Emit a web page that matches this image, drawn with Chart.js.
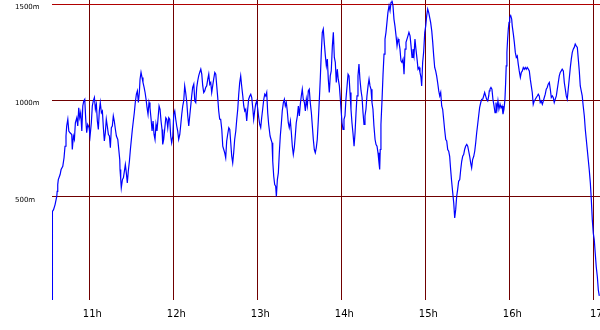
<!DOCTYPE html>
<html><head><meta charset="utf-8">
<script src="https://cdn.jsdelivr.net/npm/chart.js@4/dist/chart.umd.min.js"></script>
<style>html,body{margin:0;padding:0;background:#fff;overflow:hidden}canvas{display:block}</style>
</head><body>
<canvas id="c" width="600" height="330"></canvas>
<script>
// x axis: minutes since midnight; y axis: altitude in metres
const tickMinutes = [660, 720, 780, 840, 900, 960, 1020];
const tickLabels = ['11h', '12h', '13h', '14h', '15h', '16h', '17'];
const altTicks = [500, 1000, 1500];
const altLabels = ['500m', '1000m', '1500m'];

const minutes = [
633.5,633.6,634.4,635.5,636.7,637.0,637.4,637.8,639.1,639.8,641.0,641.9,642.6,643.3,643.8,644.6,645.3,646.2,647.4,647.8,648.6,649.3,650.0,651.0,651.7,652.4,653.1,653.8,654.6,655.3,656.0,656.7,657.4,658.1,658.8,659.8,660.5,661.4,662.1,662.8,663.6,664.3,665.0,665.7,666.4,667.1,667.8,668.6,669.3,670.0,670.7,671.4,672.1,672.8,673.6,674.3,675.0,675.7,676.4,677.1,677.8,678.6,679.3,680.3,681.0,681.7,681.9,682.4,682.8,683.6,684.3,685.0,685.7,686.4,687.1,687.8,688.6,689.3,690.0,690.7,691.4,692.1,692.8,693.6,694.3,695.0,695.7,696.2,696.9,697.6,698.3,699.1,699.8,700.5,701.2,701.9,702.6,703.3,704.1,704.8,705.5,706.2,706.9,707.6,708.3,709.1,709.8,
710.5,711.2,711.9,712.4,713.1,713.8,714.6,715.3,716.0,716.7,717.4,718.1,718.8,719.6,720.3,721.0,721.7,722.4,723.1,723.8,724.6,725.3,726.0,726.7,727.4,728.1,728.8,729.6,730.3,731.0,731.7,732.4,733.1,733.8,734.6,735.3,736.0,736.7,737.4,738.1,738.8,739.6,740.3,741.0,741.7,742.4,743.1,743.8,744.6,745.3,746.0,746.7,747.4,748.1,748.8,749.6,750.3,751.0,751.7,752.4,753.1,753.8,754.6,755.3,756.0,756.7,757.4,758.1,758.8,759.6,760.3,761.0,761.7,762.4,763.1,763.8,764.6,765.3,766.0,766.7,767.4,768.1,768.8,769.6,770.3,771.0,771.7,772.4,773.1,773.8,774.6,775.3,776.0,776.7,777.4,778.1,778.8,779.6,780.3,781.0,781.7,782.4,783.1,783.8,784.6,785.3,786.0,786.7,787.4,788.1,
789.1,789.8,790.5,791.0,791.7,792.4,793.1,793.6,794.3,795.0,795.7,796.4,797.1,797.8,798.6,799.3,800.0,800.7,801.4,802.1,802.8,803.6,804.3,805.0,805.7,806.4,807.1,807.8,808.6,809.3,810.0,810.7,811.4,812.1,812.8,813.6,814.3,815.0,815.7,816.4,817.1,817.8,818.6,819.3,820.0,820.7,821.4,822.1,822.8,823.6,824.3,825.0,825.7,826.4,827.1,827.8,828.6,829.3,830.0,830.7,831.4,832.1,832.8,833.6,834.3,835.0,835.7,836.4,837.1,837.8,838.6,839.3,839.8,840.5,841.2,841.9,842.6,843.3,844.1,844.8,845.5,846.2,846.9,847.6,848.3,849.1,849.8,850.5,851.2,851.9,852.6,853.3,854.1,854.8,855.5,856.2,856.9,857.6,858.3,859.1,859.8,860.5,861.2,861.9,862.6,863.3,864.1,864.8,865.5,866.2,866.9,867.4,
867.8,868.3,869.1,869.8,870.5,871.2,871.9,872.6,873.3,874.1,874.8,875.5,876.2,876.9,877.6,878.3,879.1,879.8,880.5,881.2,881.9,882.6,883.3,884.1,884.8,885.5,886.2,886.9,887.6,888.3,889.1,889.8,890.5,891.2,891.9,892.6,893.3,894.1,894.8,895.5,896.2,896.9,897.4,898.1,898.8,899.6,900.3,901.0,901.7,902.4,903.1,903.8,904.6,905.3,906.0,906.7,907.4,908.1,908.8,909.6,910.3,911.0,911.7,912.4,913.1,913.8,914.6,915.3,916.0,916.7,917.4,918.1,918.8,919.6,920.3,921.0,921.7,922.4,923.1,923.8,924.6,925.3,926.0,926.7,927.4,928.1,928.8,929.6,930.3,931.0,931.7,932.4,933.1,933.8,934.6,935.3,936.0,936.7,937.4,938.1,938.8,939.6,940.3,941.0,941.7,942.4,943.1,943.8,944.6,945.3,945.7,
946.2,946.9,947.6,948.3,949.1,949.8,950.5,951.2,951.9,952.6,953.4,954.1,954.8,955.5,956.2,956.9,957.4,957.8,958.3,958.8,959.3,959.8,960.3,961.0,961.7,962.1,962.9,963.6,964.3,965.0,965.7,966.4,967.1,967.9,968.6,969.3,970.0,970.7,971.4,972.1,972.8,973.6,974.3,975.0,975.7,976.4,977.1,977.8,978.6,979.3,980.0,980.7,981.4,982.1,982.8,983.6,984.3,985.0,985.7,986.4,987.1,987.8,988.6,989.3,990.0,990.7,991.4,992.1,992.8,993.6,994.3,995.0,995.7,996.4,997.1,997.8,998.6,999.3,1000.0,1000.7,1001.4,1002.1,1002.8,1003.6,1004.3,1005.0,1005.7,1006.4,1007.1,1007.8,1008.6,1009.3,1010.0,1010.7,1011.4,1012.1,1012.8,1013.6,1014.3,1015.0,1015.7,1016.4,1017.1,1017.9,1018.6,1019.3,1020.0,1020.7,1021.4,1022.1,1022.9,1023.6,1024.3
];

const altitude = [
-35,425,434,460,503,529,564,590,616,642,659,703,763,816,868,903,842,833,824,746,816,798,885,911,868,963,911,937,842,972,998,1007,903,833,876,859,816,885,972,998,1016,955,981,894,850,946,990,937,946,859,790,833,903,868,824,816,755,859,868,920,894,850,816,798,746,694,642,590,547,590,599,633,668,625,573,633,685,746,798,850,894,937,990,1033,1050,990,1042,1111,1146,1120,1094,1068,1042,1007,963,929,990,963,903,842,894,824,798,876,842,911,972,
955,894,850,772,798,850,911,903,859,911,903,816,781,816,929,946,903,868,842,798,824,876,929,972,998,1076,1042,990,920,868,920,972,1024,1068,1085,998,990,1068,1102,1128,1146,1163,1137,1076,1042,1050,1068,1076,1111,1137,1085,1094,1042,1076,1111,1146,1137,1076,1016,946,903,903,850,763,746,729,703,790,824,859,850,781,711,677,729,798,842,903,955,1033,1094,1128,1076,1024,972,946,955,894,955,1007,1024,1033,1016,963,903,946,981,998,955,911,876,859,911,955,1007,1033,1024,1042,937,876,
816,798,781,685,607,564,555,503,590,625,729,816,876,946,990,1007,972,990,946,885,859,894,833,763,720,755,816,885,920,972,920,981,1024,1059,1007,990,946,1007,972,1050,1059,990,937,868,798,746,729,755,798,903,1007,1120,1250,1354,1371,1302,1232,1180,1215,1111,1042,1128,1154,1284,1354,1224,1198,1094,1163,1111,1076,1007,955,885,850,903,920,1007,1076,1137,1128,1042,955,885,833,763,833,937,1024,1128,1189,1111,1050,1016,937,876,920,955,1024,1076,1111,1076,1059,990,955,868,798,772,763,729,677,642,
746,876,1007,1137,1241,1319,1354,1406,1458,1493,1467,1510,1519,1493,1423,1388,1336,1284,1319,1302,1267,1206,1198,1215,1137,1267,1302,1319,1336,1354,1336,1284,1224,1267,1232,1319,1267,1215,1163,1172,1146,1120,1076,1198,1250,1354,1388,1441,1475,1458,1432,1406,1362,1302,1232,1172,1154,1128,1094,1050,1024,1042,972,955,903,850,798,790,746,737,711,642,581,521,469,391,434,503,538,581,590,642,685,711,720,746,763,772,763,737,711,677,651,694,711,737,781,833,876,920,963,990,1007,1007,1024,1042,1024,1007,998,1024,1050,
1059,1068,1059,1007,972,937,990,955,998,955,981,963,972,929,955,1007,1094,1180,1250,1319,1371,1406,1432,1441,1423,1388,1345,1302,1250,1224,1232,1189,1154,1120,1146,1154,1172,1163,1172,1163,1172,1163,1154,1111,1076,1042,981,998,1007,1016,1024,1033,1024,990,998,981,998,1016,1033,1059,1068,1085,1094,1059,1016,1024,1016,990,1007,1024,1059,1094,1128,1146,1154,1163,1154,1094,1059,1024,1007,1059,1111,1172,1215,1250,1267,1276,1293,1284,1276,1215,1154,1076,1050,1024,972,920,850,798,746,694,642,573,486,382,312,278,208,139,86,17,-14
];

const points = minutes.map((m, i) => ({ x: m, y: altitude[i] }));

new Chart(document.getElementById('c'), {
  type: 'line',
  data: { datasets: [{ data: points, borderColor: '#0000ff', borderWidth: 1.2, pointRadius: 0, tension: 0, fill: false }] },
  options: {
    responsive: false, animation: false, devicePixelRatio: 1,
    layout: { padding: { left: 15, top: 0, right: 0, bottom: 0 } },
    plugins: { legend: { display: false }, tooltip: { enabled: false } },
    scales: {
      x: {
        type: 'linear', min: 633.3, max: 1024.8,
        afterBuildTicks: s => { s.ticks = tickMinutes.map(v => ({ value: v })); },
        afterFit: s => { s.height = 30; s.paddingLeft = 0; s.paddingRight = 0; },
        grid: { color: '#700000', drawTicks: false, lineWidth: 1 },
        border: { display: false },
        ticks: {
          callback: (v, i) => tickLabels[i],
          font: { family: 'DejaVu Sans', size: 10 }, color: '#000',
          padding: 8, labelOffset: 3, maxRotation: 0, autoSkip: false
        }
      },
      y: {
        min: -35, max: 1522,
        afterBuildTicks: s => { s.ticks = altTicks.map(v => ({ value: v })); },
        afterFit: s => { s.width = 37; s.paddingTop = 0; s.paddingBottom = 0; },
        grid: { color: c => (c.tick && c.tick.value === 1500) ? '#b00000' : '#700000', drawTicks: false, lineWidth: 1 },
        border: { display: false },
        ticks: {
          callback: (v, i) => altLabels[i],
          crossAlign: 'far',
          font: { family: 'DejaVu Sans', size: 7 }, color: '#000',
          labelOffset: 3, padding: 0
        }
      }
    }
  }
});
</script>
</body></html>
